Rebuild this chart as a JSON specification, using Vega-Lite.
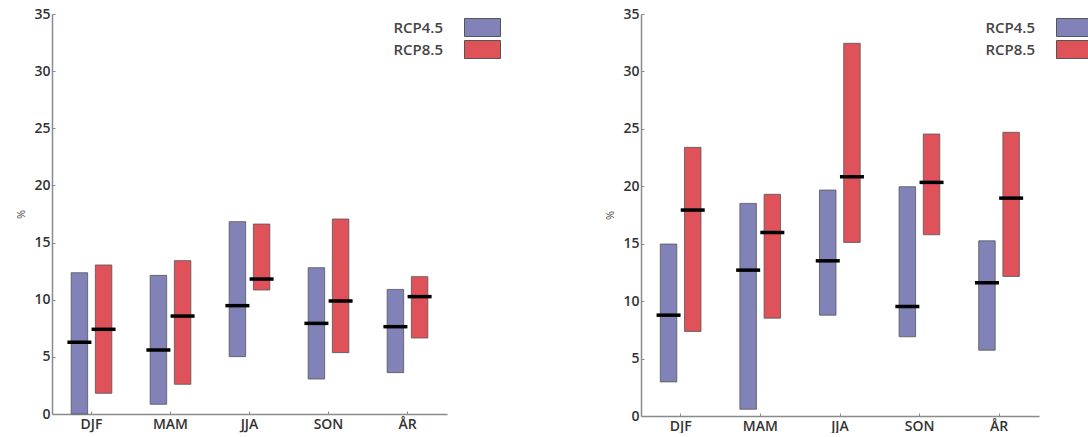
{
  "$schema": "https://vega.github.io/schema/vega-lite/v6.json",
  "padding": {"left": 15, "top": 7, "right": 0, "bottom": 0},
  "background": "white",
  "bounds": "flush",
  "spacing": 194,
  "datasets": {
    "left": [
      {"season": "DJF", "scenario": "RCP4.5", "min": 0, "max": 12.36, "median": 6.27},
      {"season": "DJF", "scenario": "RCP8.5", "min": 1.81, "max": 13.04, "median": 7.41},
      {"season": "MAM", "scenario": "RCP4.5", "min": 0.85, "max": 12.13, "median": 5.6},
      {"season": "MAM", "scenario": "RCP8.5", "min": 2.6, "max": 13.42, "median": 8.57},
      {"season": "JJA", "scenario": "RCP4.5", "min": 5.02, "max": 16.83, "median": 9.48},
      {"season": "JJA", "scenario": "RCP8.5", "min": 10.85, "max": 16.62, "median": 11.81},
      {"season": "SON", "scenario": "RCP4.5", "min": 3.06, "max": 12.8, "median": 7.93},
      {"season": "SON", "scenario": "RCP8.5", "min": 5.37, "max": 17.06, "median": 9.89},
      {"season": "ÅR", "scenario": "RCP4.5", "min": 3.62, "max": 10.9, "median": 7.64},
      {"season": "ÅR", "scenario": "RCP8.5", "min": 6.65, "max": 12.02, "median": 10.27}
    ],
    "right": [
      {"season": "DJF", "scenario": "RCP4.5", "min": 2.97, "max": 14.97, "median": 8.78},
      {"season": "DJF", "scenario": "RCP8.5", "min": 7.36, "max": 23.39, "median": 17.93},
      {"season": "MAM", "scenario": "RCP4.5", "min": 0.59, "max": 18.51, "median": 12.7},
      {"season": "MAM", "scenario": "RCP8.5", "min": 8.52, "max": 19.3, "median": 15.98},
      {"season": "JJA", "scenario": "RCP4.5", "min": 8.78, "max": 19.67, "median": 13.51},
      {"season": "JJA", "scenario": "RCP8.5", "min": 15.11, "max": 32.45, "median": 20.83},
      {"season": "SON", "scenario": "RCP4.5", "min": 6.9, "max": 19.96, "median": 9.54},
      {"season": "SON", "scenario": "RCP8.5", "min": 15.78, "max": 24.55, "median": 20.34},
      {"season": "ÅR", "scenario": "RCP4.5", "min": 5.73, "max": 15.25, "median": 11.6},
      {"season": "ÅR", "scenario": "RCP8.5", "min": 12.15, "max": 24.7, "median": 18.97}
    ]
  },
  "config": {
    "view": {"stroke": null},
    "axis": {
      "grid": false,
      "domainColor": "#8a8a8a",
      "domainWidth": 1.5,
      "tickColor": "#8a8a8a",
      "labelFont": "Open Sans",
      "labelFontWeight": 600,
      "labelFontSize": 14,
      "labelColor": "#333333",
      "titleFont": "Open Sans",
      "titleFontWeight": "normal",
      "titleFontSize": 11,
      "titleColor": "#444444"
    },
    "legend": {
      "orient": "none",
      "legendY": 4,
      "title": null,
      "symbolType": "M-2,-1H2V1H-2Z",
      "symbolSize": 324,
      "symbolStrokeColor": "#555555",
      "symbolStrokeWidth": 1,
      "symbolOpacity": 1,
      "labelAlign": "right",
      "labelOffset": -49,
      "labelFont": "Open Sans",
      "labelFontWeight": 600,
      "labelFontSize": 15,
      "labelColor": "#444444",
      "rowPadding": -1
    }
  },
  "resolve": {"scale": {"color": "independent"}, "legend": {"color": "independent"}},
  "hconcat": [
    {
      "width": 395,
      "height": 400,
      "data": {"name": "left"},
      "encoding": {
        "x": {"field": "season", "type": "nominal", "sort": ["DJF", "MAM", "JJA", "SON", "ÅR"],
              "scale": {"paddingInner": 0.485, "paddingOuter": 0.2425},
              "axis": {"title": null, "labelAngle": 0, "tickSize": -3, "labelPadding": 6}},
        "xOffset": {"field": "scenario", "type": "nominal", "sort": ["RCP4.5", "RCP8.5"],
                    "scale": {"paddingInner": 0.318, "paddingOuter": 0}}
      },
      "layer": [
        {
          "mark": {"type": "bar", "stroke": "#555555", "strokeWidth": 0.8},
          "encoding": {
            "y": {"field": "min", "type": "quantitative", "scale": {"domain": [0, 35], "nice": false},
                  "axis": {"title": "%", "values": [0, 5, 10, 15, 20, 25, 30, 35], "tickSize": -3, "labelPadding": 5, "titlePadding": 7}},
            "y2": {"field": "max"},
            "color": {"field": "scenario", "type": "nominal",
                      "scale": {"domain": ["RCP4.5", "RCP8.5"], "range": ["#8182b8", "#e0525a"]},
                      "legend": {"legendX": 421}}
          }
        },
        {
          "mark": {"type": "tick", "color": "#000000", "thickness": 3.5, "size": 24, "opacity": 1},
          "encoding": {"y": {"field": "median", "type": "quantitative"}}
        }
      ]
    },
    {
      "width": 398,
      "height": 402,
      "data": {"name": "right"},
      "encoding": {
        "x": {"field": "season", "type": "nominal", "sort": ["DJF", "MAM", "JJA", "SON", "ÅR"],
              "scale": {"paddingInner": 0.485, "paddingOuter": 0.2425},
              "axis": {"title": null, "labelAngle": 0, "tickSize": -3, "labelPadding": 6}},
        "xOffset": {"field": "scenario", "type": "nominal", "sort": ["RCP4.5", "RCP8.5"],
                    "scale": {"paddingInner": 0.318, "paddingOuter": 0}}
      },
      "layer": [
        {
          "mark": {"type": "bar", "stroke": "#555555", "strokeWidth": 0.8},
          "encoding": {
            "y": {"field": "min", "type": "quantitative", "scale": {"domain": [0, 35], "nice": false},
                  "axis": {"title": "%", "values": [0, 5, 10, 15, 20, 25, 30, 35], "tickSize": -3, "labelPadding": 5, "titlePadding": 7}},
            "y2": {"field": "max"},
            "color": {"field": "scenario", "type": "nominal",
                      "scale": {"domain": ["RCP4.5", "RCP8.5"], "range": ["#8182b8", "#e0525a"]},
                      "legend": {"legendX": 424}}
          }
        },
        {
          "mark": {"type": "tick", "color": "#000000", "thickness": 3.5, "size": 24, "opacity": 1},
          "encoding": {"y": {"field": "median", "type": "quantitative"}}
        }
      ]
    }
  ]
}
